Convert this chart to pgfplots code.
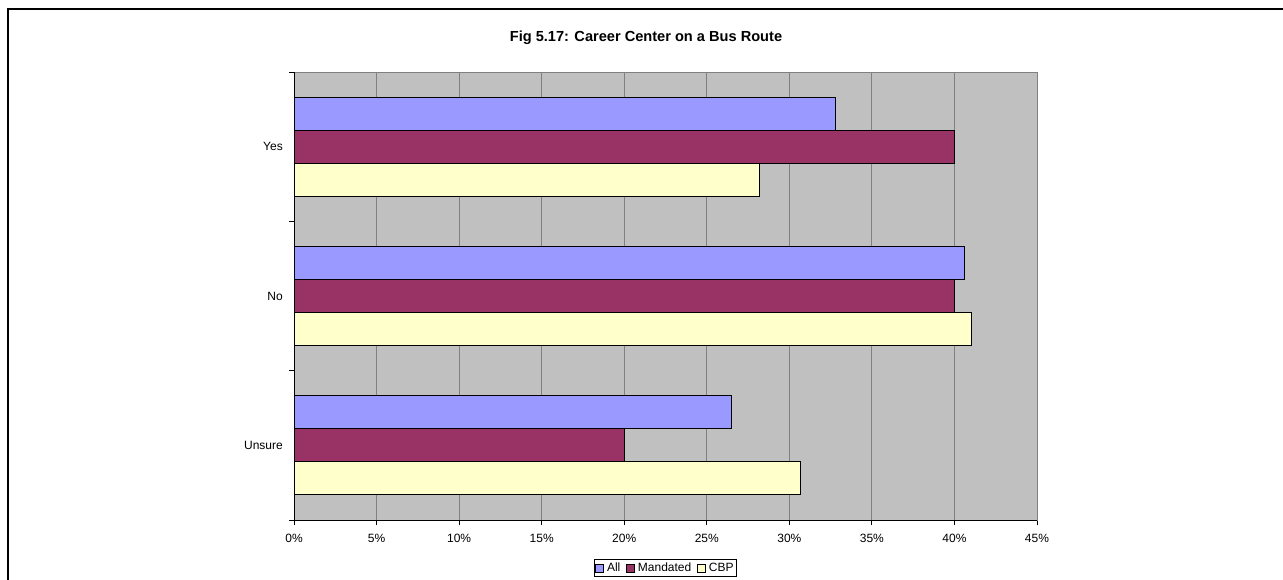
\documentclass[border=0pt]{standalone}
\usepackage{pgfplots}
\pgfplotsset{compat=1.18}
\usepackage{fontspec}
\setmainfont{Liberation Sans}
\definecolor{bgc}{HTML}{C0C0C0}
\definecolor{allc}{HTML}{9999FF}
\definecolor{manc}{HTML}{993366}
\definecolor{cbpc}{HTML}{FFFFCC}
\definecolor{gridc}{HTML}{808080}
\begin{document}
\begin{tikzpicture}[x=1pt,y=1pt]
\useasboundingbox (0,0) rectangle (1283,579);
\fill[white] (0,0) rectangle (1283,579);
\draw[line width=2.2pt] (8,-5) -- (8,570) -- (1290,570);
\node[font=\bfseries\fontsize{14.6}{16}\selectfont, inner sep=0pt] at (646,541) {Fig 5.17: Career Center on a Bus Route};
\begin{axis}[
  at={(294pt,59pt)}, anchor=south west,
  scale only axis, width=743pt, height=448pt,
  xbar=0pt, bar width=33pt,
  xmin=0, xmax=45, ymin=-0.5, ymax=2.5,
  axis background/.style={fill=bgc},
  axis line style={draw=gridc, line width=0.8pt},
  xmajorgrids, major grid style={draw=gridc, line width=0.8pt},
  xtick={0,5,10,15,20,25,30,35,40,45},
  xticklabels={0\%,5\%,10\%,15\%,20\%,25\%,30\%,35\%,40\%,45\%},
  xtick pos=bottom, ytick pos=left,
  tick align=outside,
  major tick length=5pt, minor tick length=5pt,
  xtick style={draw=black, line width=0.8pt},
  ytick={0,1,2}, yticklabels={Unsure,No,Yes},
  minor ytick={-0.5,0.5,1.5,2.5},
  major y tick style={draw=none},
  minor y tick style={draw=black, line width=0.8pt},
  tick label style={font=\fontsize{12}{14}\selectfont},
  xticklabel style={anchor=north, inner sep=0pt, yshift=-8.5pt},
  yticklabel style={anchor=east, inner sep=0pt, xshift=-6pt},
  legend style={at={(0.5,-0.1071)}, anchor=center, legend columns=3,
    draw=black, line width=0.6pt, fill=white, inner xsep=1pt, inner ysep=1.5pt,
    font=\fontsize{12}{14}\selectfont,
    /tikz/every odd column/.append style={column sep=1pt},
    /tikz/every even column/.append style={column sep=4pt}},
  legend image code/.code={\draw[#1, draw=black, line width=0.6pt] (0pt,-4pt) rectangle (8pt,4pt);},
]
\addplot[fill=allc, draw=black, line width=0.8pt, bar shift=33pt] coordinates {(32.8,2) (40.6,1) (26.5,0)};
\addplot[fill=manc, draw=black, line width=0.8pt, bar shift=0pt] coordinates {(40.0,2) (40.0,1) (20.0,0)};
\addplot[fill=cbpc, draw=black, line width=0.8pt, bar shift=-33pt] coordinates {(28.2,2) (41.0,1) (30.7,0)};
\legend{All,Mandated,CBP}
\draw[black, line width=1pt] (rel axis cs:0,1) -- (rel axis cs:0,0) -- (rel axis cs:1,0);
\end{axis}
\end{tikzpicture}
\end{document}
